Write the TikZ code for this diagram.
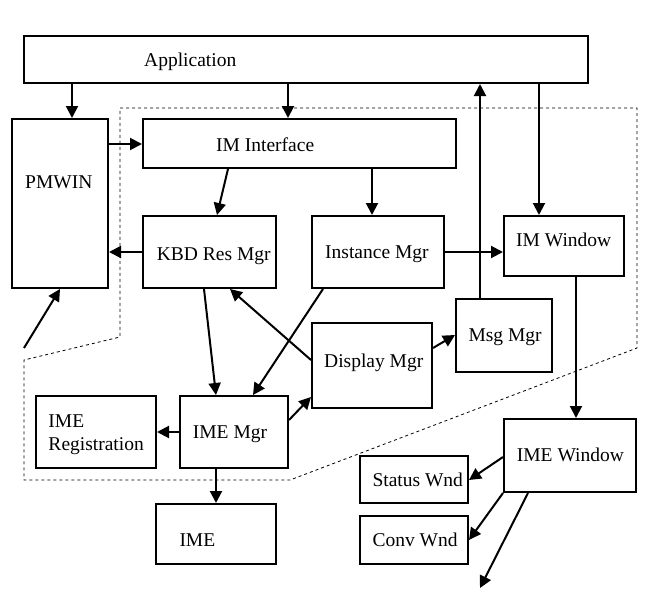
\documentclass[tikz,border=0pt]{standalone}
\usepackage{fontspec}
\setmainfont{Liberation Serif}
\usetikzlibrary{arrows.meta,fit}
\begin{document}
\begin{tikzpicture}[x=1pt,y=-1pt,
  box/.style={draw,line width=2pt,inner sep=0pt,fit={#1}},
  txt/.style={anchor=base west,inner sep=0pt,font=\fontsize{19.5}{23}\selectfont,align=left},
  arr/.style={line width=2pt,-{Triangle[length=12pt,width=12pt]}},
  bound/.style={line width=0.8pt,dash pattern=on 3pt off 3pt}]
\useasboundingbox (0,0) rectangle (646,605);
% boundary
\draw[bound] (120,108) -- (637,108) -- (637,348) -- (290,480) -- (24,480) -- (24,360) -- (120,337) -- cycle;
% boxes
\node[box={(24,36) (588,83)}] (app) {};
\node[box={(12,119) (108,288)}] (pmwin) {};
\node[box={(143,119) (456,168)}] (imif) {};
\node[box={(143,216) (276,288)}] (kbd) {};
\node[box={(312,216) (444,288)}] (inst) {};
\node[box={(504,216) (624,276)}] (imwin) {};
\node[box={(456,299) (552,372)}] (msg) {};
\node[box={(312,323) (432,408)}] (disp) {};
\node[box={(180,396) (288,468)}] (imemgr) {};
\node[box={(36,396) (156,468)}] (imereg) {};
\node[box={(156,504) (276,564)}] (ime) {};
\node[box={(504,419) (636,492)}] (imewin) {};
\node[box={(360,456) (468,503)}] (status) {};
\node[box={(360,516) (468,564)}] (conv) {};
% texts
\node[txt] (appT) at (144,66.7) {Application};
\node[txt] (pmwinT) at (25,188.3) {PMWIN};
\node[txt] (imifT) at (216,151.7) {IM Interface};
\node[txt] (kbdT) at (156.7,260) {KBD Res Mgr};
\node[txt] (instT) at (325,258) {Instance Mgr};
\node[txt] (imwinT) at (516,246.7) {IM Window};
\node[txt] (msgT) at (468.3,341.7) {Msg Mgr};
\node[txt] (dispT) at (324,367.7) {Display Mgr};
\node[txt] (imemgrT) at (192.7,438.3) {IME Mgr};
\node[txt] (imeregT) at (48.3,450) {IME\\Registration};
\node[txt] (imeT) at (179.3,546.7) {IME};
\node[txt] (imewinT) at (516.7,461.7) {IME Window};
\node[txt] (statusT) at (372.3,486.7) {Status Wnd};
\node[txt] (convT) at (372.3,546.7) {Conv Wnd};
% free ends
\coordinate (freeA) at (24,348);
\coordinate (freeB) at (480,588);
% connectors
\draw[arr] (app.south -| 72,0) -- (pmwin.north -| 72,0);
\draw[arr] (app.south -| 288,0) -- (imif.north -| 288,0);
\draw[arr] (app.south -| 539,0) -- (imwin.north -| 539,0);
\draw[arr] (msg.north -| 480,0) -- (app.south -| 480,0);
\draw[arr] (pmwin.east |- 0,144) -- (imif.west |- 0,144);
\draw[arr] (imif.south -| 228,0) -- (kbd.north -| 217,0);
\draw[arr] (imif.south -| 372,0) -- (inst.north -| 372,0);
\draw[arr] (kbd.west |- 0,252) -- (pmwin.east |- 0,252);
\draw[arr] (inst.east |- 0,252) -- (imwin.west |- 0,252);
\draw[arr] (kbd.south -| 204,0) -- (imemgr.north -| 216,0);
\draw[arr] (disp.west |- 0,360) -- (kbd.south -| 230,0);
\draw[arr] (inst.south -| 323,0) -- (imemgr.north -| 253,0);
\draw[arr] (imemgr.east |- 0,420) -- (disp.west |- 0,397);
\draw[arr] (disp.east |- 0,348) -- (msg.west |- 0,335);
\draw[arr] (imemgr.west |- 0,432) -- (imereg.east |- 0,432);
\draw[arr] (imemgr.south -| 216,0) -- (ime.north -| 216,0);
\draw[arr] (imwin.south -| 576,0) -- (imewin.north -| 576,0);
\draw[arr] (imewin.west |- 0,457) -- (status.east |- 0,480);
\draw[arr] (imewin.south west) -- (conv.east |- 0,540);
\draw[arr] (imewin.south -| 528,0) -- (freeB);
\draw[arr] (freeA) -- (pmwin.south -| 60,0);
\end{tikzpicture}
\end{document}
